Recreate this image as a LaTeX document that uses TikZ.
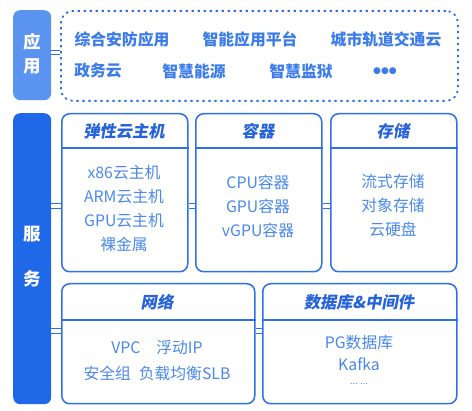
\documentclass[tikz,border=0pt]{standalone}
\usepackage{fontspec}
\setmainfont{Noto Sans CJK SC}
\newfontfamily\headfont{Noto Sans CJK SC}[FakeSlant=0.18]
\definecolor{lightcat}{HTML}{5B93F0}
\definecolor{darkcat}{HTML}{1F68E8}
\definecolor{edge}{HTML}{2D70E8}
\definecolor{topblue}{HTML}{3C7CEA}
\definecolor{itemblue}{HTML}{4A88EE}
\definecolor{headblue}{HTML}{2662DA}
\tikzset{
  catbox/.style={rounded corners=7pt, inner sep=0pt, anchor=north west},
  svcbox/.style={draw=edge, line width=1.5pt, rounded corners=8pt, inner sep=0pt, anchor=north west},
  dashbox/.style={draw=edge, line width=1.8pt, dash pattern=on 2.2pt off 3.8pt, rounded corners=12pt, inner sep=0pt, anchor=north west},
  conn/.style={draw=edge, line width=1.2pt, double=white, double distance=3.2pt},
  toptext/.style={text=topblue, font=\bfseries\fontsize{15.8}{17}\selectfont, inner sep=0pt},
  item/.style={text=itemblue, font=\fontsize{15.8}{24}\selectfont, align=center, inner sep=0pt},
  head/.style={text=headblue, font=\headfont\bfseries\fontsize{16.3}{18}\selectfont, inner sep=0pt},
  cattext/.style={text=white, font=\bfseries\fontsize{17.5}{20}\selectfont, inner sep=0pt}
}
\begin{document}
\begin{tikzpicture}[x=1pt,y=-1pt]
\useasboundingbox (0,0) rectangle (472,411);
% category boxes
\node[catbox, fill=lightcat, minimum width=38pt, minimum height=90pt] (app) at (13,10) {};
\node[catbox, fill=darkcat, minimum width=38pt, minimum height=291pt] (svc) at (13,113) {};
\node[cattext] (appa) at (32,42) {应};
\node[cattext] (appb) at (32,66) {用};
\node[cattext] (svca) at (32,234) {服};
\node[cattext] (svcb) at (32,279) {务};
% application dashed box
\node[dashbox, minimum width=397pt, minimum height=90pt] (apps) at (60,10) {};
\node[toptext] (t1) at (122,39) {综合安防应用};
\node[toptext] (t2) at (250,39) {智能应用平台};
\node[toptext] (t3) at (386,39) {城市轨道交通云};
\node[toptext] (t4) at (98,71) {政务云};
\node[toptext] (t5) at (194,71) {智慧能源};
\node[toptext] (t6) at (301,71) {智慧监狱};
\node[toptext] (t7) at (385,71) {\fontspec{DejaVu Sans}\fontsize{9}{12}\selectfont ●●●};
% service boxes
\node[svcbox, minimum width=126pt, minimum height=158pt] (b1) at (61,113) {};
\node[svcbox, minimum width=126pt, minimum height=158pt] (b2) at (195,113) {};
\node[svcbox, minimum width=126pt, minimum height=158pt] (b3) at (330,113) {};
\node[svcbox, minimum width=193pt, minimum height=120pt] (b4) at (61,283) {};
\node[svcbox, minimum width=194pt, minimum height=120pt] (b5) at (262,283) {};
% header separators
\coordinate (h1) at (0,148);
\coordinate (h2) at (0,320);
\draw[edge, line width=1.5pt] (b1.west |- h1) -- (b1.east |- h1);
\draw[edge, line width=1.5pt] (b2.west |- h1) -- (b2.east |- h1);
\draw[edge, line width=1.5pt] (b3.west |- h1) -- (b3.east |- h1);
\draw[edge, line width=1.5pt] (b4.west |- h2) -- (b4.east |- h2);
\draw[edge, line width=1.5pt] (b5.west |- h2) -- (b5.east |- h2);
% headers
\node[head] (hd1) at (124,131) {弹性云主机};
\node[head] (hd2) at (258,131) {容器};
\node[head] (hd3) at (393,131) {存储};
\node[head] (hd4) at (157,302) {网络};
\node[head] (hd5) at (359,302) {数据库\&中间件};
% items
\node[item] (i1) at (124,209) {x86云主机\\ARM云主机\\GPU云主机\\裸金属};
\node[item] (i2) at (258,206) {CPU容器\\GPU容器\\vGPU容器};
\node[item] (i3) at (393,206) {流式存储\\对象存储\\云硬盘};
\node[item] (i4) at (157,347) {VPC\quad 浮动IP};
\node[item] (i5) at (157,373) {安全组\enspace 负载均衡SLB};
\node[item, font=\fontsize{15.8}{22}\selectfont] (i6) at (359,353) {PG数据库\\Kafka};
\node[item, font=\fontsize{9}{10}\selectfont] (i7) at (359,384) {... ...};
% connectors
\coordinate (c0) at (0,52.5);
\coordinate (c1) at (0,206);
\coordinate (c2) at (0,331);
\draw[conn] (app.east |- c0) -- (apps.west |- c0);
\draw[conn] (svc.east |- c1) -- (b1.west |- c1);
\draw[conn] (b1.east |- c1) -- (b2.west |- c1);
\draw[conn] (b2.east |- c1) -- (b3.west |- c1);
\draw[conn] (svc.east |- c2) -- (b4.west |- c2);
\draw[conn] (b4.east |- c2) -- (b5.west |- c2);
\end{tikzpicture}
\end{document}
